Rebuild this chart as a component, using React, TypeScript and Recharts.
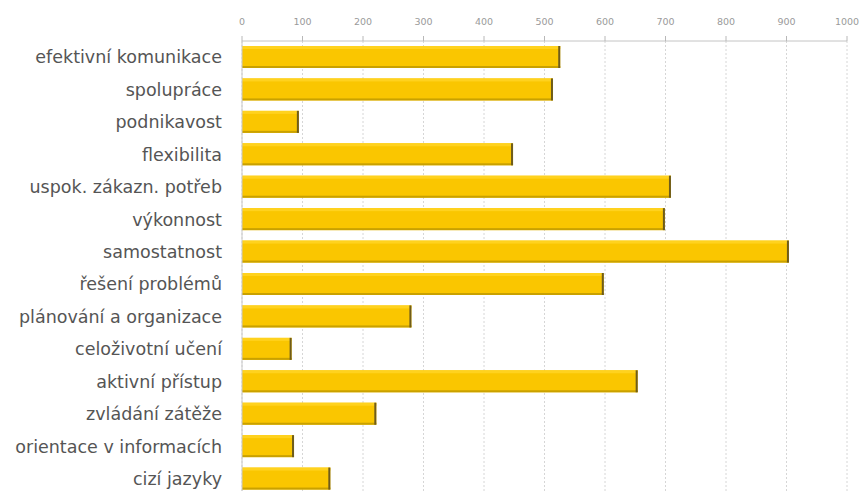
import React from 'react';
import { BarChart, Bar, XAxis, YAxis, CartesianGrid } from 'recharts';

const competences = [
  'efektivní komunikace',
  'spolupráce',
  'podnikavost',
  'flexibilita',
  'uspok. zákazn. potřeb',
  'výkonnost',
  'samostatnost',
  'řešení problémů',
  'plánování a organizace',
  'celoživotní učení',
  'aktivní přístup',
  'zvládání zátěže',
  'orientace v informacích',
  'cizí jazyky',
];

const counts = [526, 514, 94, 448, 709, 699, 904, 598, 280, 82, 654, 222, 86, 146];

const xTicks = [0, 100, 200, 300, 400, 500, 600, 700, 800, 900, 1000];

const data = competences.map((name, i) => ({ name, value: counts[i] }));

const FONT = '"DejaVu Sans", Verdana, sans-serif';

function GoldBar(props: any) {
  const { x, y, width, height } = props;
  if (!width || width <= 0) return null;
  return (
    <g>
      <rect x={x} y={y} width={width} height={height} fill="#FAC600" />
      <rect x={x} y={y} width={width} height={3} fill="#FFD21E" />
      <rect x={x} y={y + height - 2} width={width} height={2} fill="#C9A100" />
      <rect x={x + width - 2} y={y} width={2} height={height} fill="#6E5C1C" />
    </g>
  );
}

export default function App() {
  return (
    <div
      style={{
        position: 'absolute',
        top: 0,
        left: 0,
        width: 860,
        height: 491,
        overflow: 'hidden',
        background: '#fff',
      }}
    >
      <BarChart
        width={860}
        height={495}
        data={data}
        layout="vertical"
        margin={{ top: 0, right: 13, bottom: 0, left: 0 }}
        barSize={22}
      >
        <CartesianGrid horizontal={false} stroke="#d6d6d6" strokeDasharray="2 2" />
        <XAxis
          type="number"
          orientation="top"
          domain={[0, 1000]}
          ticks={xTicks}
          height={41}
          axisLine={{ stroke: '#c4c4c4' }}
          tickLine={{ stroke: '#b8b8b8' }}
          tickSize={5}
          tickMargin={11}
          interval={0}
          tick={{ fill: '#9a9a9a', fontSize: 9.5, fontFamily: FONT }}
        />
        <YAxis
          type="category"
          dataKey="name"
          width={242}
          axisLine={{ stroke: '#c8c8c8' }}
          tickLine={false}
          tickSize={10}
          tickMargin={10}
          interval={0}
          tick={{ fill: '#555', fontSize: 17.5, fontFamily: FONT }}
        />
        <Bar dataKey="value" shape={GoldBar} isAnimationActive={false} />
      </BarChart>
    </div>
  );
}
